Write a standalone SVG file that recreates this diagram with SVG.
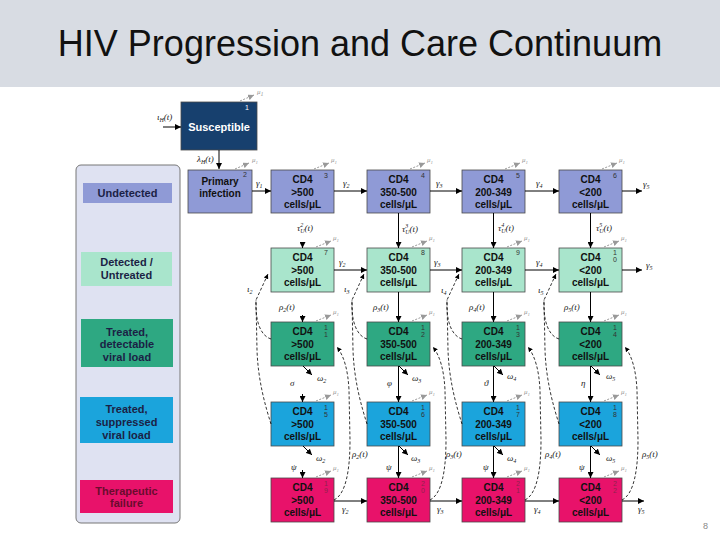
<svg xmlns="http://www.w3.org/2000/svg" width="720" height="540" viewBox="0 0 720 540">
<defs>
<style>
.bx{stroke:#4a4a4a;stroke-width:0.8}
.u{fill:#8f9ad6}.d{fill:#a9e5cc}.t{fill:#2ea882}.s{fill:#1ba4dc}.f{fill:#e8126a}
.bt{font-family:"Liberation Sans",Arial,sans-serif;font-weight:bold;font-size:10px;text-anchor:middle;fill:#111}
.side{font-family:"Liberation Sans",Arial,sans-serif;font-weight:bold;font-size:11px;text-anchor:middle;fill:#1b1f45}
.lb{font-family:"Liberation Serif","Times New Roman",serif;font-style:italic;font-size:9px;fill:#222}
.s6{font-size:6px}
.num{font-family:"Liberation Sans",Arial,sans-serif;font-size:7px;fill:#333;text-anchor:middle}
.ln{stroke:#000;stroke-width:1;fill:none}
.dl{stroke:#000;stroke-width:0.8;stroke-dasharray:3 2;fill:none}
.mu{stroke:#999;stroke-width:1;stroke-dasharray:2 1.5;fill:none}
.mut{font-family:"Liberation Serif",serif;font-style:italic;font-size:7px;fill:#999}
</style>
<marker id="ah" viewBox="0 0 10 10" refX="10" refY="5" markerWidth="6" markerHeight="6" orient="auto"><path d="M0,0 L10,5 L0,10 z" fill="#000"/></marker>
<marker id="ag" viewBox="0 0 10 10" refX="10" refY="5" markerWidth="6" markerHeight="6" orient="auto"><path d="M0,0 L10,5 L0,10 z" fill="#999"/></marker>
</defs>
<rect x="0" y="0" width="720" height="540" fill="#fff"/>
<rect x="0" y="0" width="720" height="87" fill="#d8dce3"/>
<text x="360" y="56" text-anchor="middle" font-family="'Liberation Sans',Arial,sans-serif" font-size="36" fill="#111">HIV Progression and Care Continuum</text>

<g id="legend">
<rect x="76" y="165" width="104" height="358" rx="5" fill="#dfe2f2" stroke="#777" stroke-width="1"/>
<g id="lg-undetected"><rect x="83" y="183" width="89" height="20" class="u"/><text class="side" x="127.5" y="197">Undetected</text></g>
<g id="lg-detected"><rect x="81" y="252" width="91" height="34" class="d"/><text class="side" x="126.5" y="266">Detected /</text><text class="side" x="126.5" y="279">Untreated</text></g>
<g id="lg-treated"><rect x="81" y="319" width="92" height="48" class="t"/><text class="side" x="127" y="336">Treated,</text><text class="side" x="127" y="348">detectable</text><text class="side" x="127" y="361">viral load</text></g>
<g id="lg-suppressed"><rect x="80" y="397" width="93" height="46" class="s"/><text class="side" x="126.5" y="413">Treated,</text><text class="side" x="126.5" y="426">suppressed</text><text class="side" x="126.5" y="439">viral load</text></g>
<g id="lg-failure"><rect x="80" y="480" width="93" height="33" class="f"/><text class="side" x="126.5" y="495" fill="#6a0c2e" style="fill:#6a0c2e">Therapeutic</text><text class="side" x="126.5" y="507" style="fill:#6a0c2e">failure</text></g>
</g>

<g id="susceptible">
<rect x="181" y="102" width="76" height="48" fill="#17406e" class="bx"/>
<text x="219" y="131" text-anchor="middle" font-family="'Liberation Sans',Arial,sans-serif" font-weight="bold" font-size="11" fill="#fff">Susceptible</text>
<text x="247" y="110" class="num" fill="#fff" style="fill:#fff">1</text>
</g>
<g id="primary">
<rect x="188" y="170" width="64" height="43" class="bx u"/>
<text class="bt" x="220" y="185">Primary</text><text class="bt" x="220" y="197">infection</text>
<text class="num" x="245" y="177">2</text>
</g>

<!-- Row 1 -->
<g id="r1c1"><rect x="271" y="170" width="63" height="43" class="bx u"/><text class="bt" x="302.5" y="183">CD4</text><text class="bt" x="302.5" y="195.5">&gt;500</text><text class="bt" x="302.5" y="208">cells/μL</text><text class="num" x="326" y="178">3</text></g>
<g id="r1c2"><rect x="367" y="170" width="63" height="43" class="bx u"/><text class="bt" x="398.5" y="183">CD4</text><text class="bt" x="398.5" y="195.5">350-500</text><text class="bt" x="398.5" y="208">cells/μL</text><text class="num" x="423" y="178">4</text></g>
<g id="r1c3"><rect x="462" y="170" width="63" height="43" class="bx u"/><text class="bt" x="493.5" y="183">CD4</text><text class="bt" x="493.5" y="195.5">200-349</text><text class="bt" x="493.5" y="208">cells/μL</text><text class="num" x="518" y="178">5</text></g>
<g id="r1c4"><rect x="559" y="170" width="63" height="43" class="bx u"/><text class="bt" x="590.5" y="183">CD4</text><text class="bt" x="590.5" y="195.5">&lt;200</text><text class="bt" x="590.5" y="208">cells/μL</text><text class="num" x="615" y="178">6</text></g>

<!-- Row 2 -->
<g id="r2c1"><rect x="271" y="248" width="63" height="44" class="bx d"/><text class="bt" x="302.5" y="261">CD4</text><text class="bt" x="302.5" y="273.5">&gt;500</text><text class="bt" x="302.5" y="286">cells/μL</text><text class="num" x="326" y="255">7</text></g>
<g id="r2c2"><rect x="367" y="248" width="63" height="44" class="bx d"/><text class="bt" x="398.5" y="261">CD4</text><text class="bt" x="398.5" y="273.5">350-500</text><text class="bt" x="398.5" y="286">cells/μL</text><text class="num" x="423" y="255">8</text></g>
<g id="r2c3"><rect x="462" y="248" width="63" height="44" class="bx d"/><text class="bt" x="493.5" y="261">CD4</text><text class="bt" x="493.5" y="273.5">200-349</text><text class="bt" x="493.5" y="286">cells/μL</text><text class="num" x="518" y="255">9</text></g>
<g id="r2c4"><rect x="559" y="248" width="63" height="44" class="bx d"/><text class="bt" x="590.5" y="261">CD4</text><text class="bt" x="590.5" y="273.5">&lt;200</text><text class="bt" x="590.5" y="286">cells/μL</text><text class="num" x="615" y="255">1</text><text class="num" x="615" y="262">0</text></g>

<!-- Row 3 -->
<g id="r3c1"><rect x="271" y="322" width="63" height="44" class="bx t"/><text class="bt" x="302.5" y="335">CD4</text><text class="bt" x="302.5" y="347.5">&gt;500</text><text class="bt" x="302.5" y="360">cells/μL</text><text class="num" x="326" y="330">1</text><text class="num" x="326" y="337">1</text></g>
<g id="r3c2"><rect x="367" y="322" width="63" height="44" class="bx t"/><text class="bt" x="398.5" y="335">CD4</text><text class="bt" x="398.5" y="347.5">350-500</text><text class="bt" x="398.5" y="360">cells/μL</text><text class="num" x="423" y="330">1</text><text class="num" x="423" y="337">2</text></g>
<g id="r3c3"><rect x="462" y="322" width="63" height="44" class="bx t"/><text class="bt" x="493.5" y="335">CD4</text><text class="bt" x="493.5" y="347.5">200-349</text><text class="bt" x="493.5" y="360">cells/μL</text><text class="num" x="518" y="330">1</text><text class="num" x="518" y="337">3</text></g>
<g id="r3c4"><rect x="559" y="322" width="63" height="44" class="bx t"/><text class="bt" x="590.5" y="335">CD4</text><text class="bt" x="590.5" y="347.5">&lt;200</text><text class="bt" x="590.5" y="360">cells/μL</text><text class="num" x="615" y="330">1</text><text class="num" x="615" y="337">4</text></g>

<!-- Row 4 -->
<g id="r4c1"><rect x="271" y="402" width="63" height="44" class="bx s"/><text class="bt" x="302.5" y="415">CD4</text><text class="bt" x="302.5" y="427.5">&gt;500</text><text class="bt" x="302.5" y="440">cells/μL</text><text class="num" x="326" y="410">1</text><text class="num" x="326" y="417">5</text></g>
<g id="r4c2"><rect x="367" y="402" width="63" height="44" class="bx s"/><text class="bt" x="398.5" y="415">CD4</text><text class="bt" x="398.5" y="427.5">350-500</text><text class="bt" x="398.5" y="440">cells/μL</text><text class="num" x="423" y="410">1</text><text class="num" x="423" y="417">6</text></g>
<g id="r4c3"><rect x="462" y="402" width="63" height="44" class="bx s"/><text class="bt" x="493.5" y="415">CD4</text><text class="bt" x="493.5" y="427.5">200-349</text><text class="bt" x="493.5" y="440">cells/μL</text><text class="num" x="518" y="410">1</text><text class="num" x="518" y="417">7</text></g>
<g id="r4c4"><rect x="559" y="402" width="63" height="44" class="bx s"/><text class="bt" x="590.5" y="415">CD4</text><text class="bt" x="590.5" y="427.5">&lt;200</text><text class="bt" x="590.5" y="440">cells/μL</text><text class="num" x="615" y="410">1</text><text class="num" x="615" y="417">8</text></g>

<!-- Row 5 -->
<g id="r5c1"><rect x="271" y="478" width="63" height="44" class="bx f"/><text class="bt" x="302.5" y="491">CD4</text><text class="bt" x="302.5" y="503.5">&gt;500</text><text class="bt" x="302.5" y="516">cells/μL</text><text class="num" x="326" y="486" opacity="0.5">1</text><text class="num" x="326" y="493" opacity="0.5">9</text></g>
<g id="r5c2"><rect x="367" y="478" width="63" height="44" class="bx f"/><text class="bt" x="398.5" y="491">CD4</text><text class="bt" x="398.5" y="503.5">350-500</text><text class="bt" x="398.5" y="516">cells/μL</text><text class="num" x="423" y="486" opacity="0.5">2</text><text class="num" x="423" y="493" opacity="0.5">0</text></g>
<g id="r5c3"><rect x="462" y="478" width="63" height="44" class="bx f"/><text class="bt" x="493.5" y="491">CD4</text><text class="bt" x="493.5" y="503.5">200-349</text><text class="bt" x="493.5" y="516">cells/μL</text><text class="num" x="518" y="486" opacity="0.5">2</text><text class="num" x="518" y="493" opacity="0.5">1</text></g>
<g id="r5c4"><rect x="559" y="478" width="63" height="44" class="bx f"/><text class="bt" x="590.5" y="491">CD4</text><text class="bt" x="590.5" y="503.5">&lt;200</text><text class="bt" x="590.5" y="516">cells/μL</text><text class="num" x="615" y="486" opacity="0.5">2</text><text class="num" x="615" y="493" opacity="0.5">2</text></g>

<g id="connectors">
<!-- inflow & infection -->
<line class="ln" x1="163" y1="127" x2="181" y2="127" marker-end="url(#ah)"/>
<text class="lb" x="157" y="120">ι<tspan class="s6" dy="2">H</tspan><tspan dy="-2">(t)</tspan></text>
<line class="ln" x1="219" y1="150" x2="219" y2="169" marker-end="url(#ah)"/>
<text class="lb" x="197" y="162">λ<tspan class="s6" dy="2">H</tspan><tspan dy="-2">(t)</tspan></text>

<!-- mu arrows -->
<g>
<line class="mu" x1="240" y1="101" x2="254" y2="95" marker-end="url(#ag)"/><text class="mut" x="257" y="94">μ<tspan class="s6" font-size="5" dy="1.5">1</tspan></text>
<line class="mu" x1="235" y1="169" x2="249" y2="163" marker-end="url(#ag)"/><text class="mut" x="252" y="162">μ<tspan font-size="5" dy="1.5">1</tspan></text>
<line class="mu" x1="314" y1="169" x2="329" y2="163" marker-end="url(#ag)"/><text class="mut" x="331" y="162">μ<tspan font-size="5" dy="1.5">1</tspan></text>
<line class="mu" x1="410" y1="169" x2="425" y2="163" marker-end="url(#ag)"/><text class="mut" x="427" y="162">μ<tspan font-size="5" dy="1.5">1</tspan></text>
<line class="mu" x1="505" y1="169" x2="520" y2="163" marker-end="url(#ag)"/><text class="mut" x="522" y="162">μ<tspan font-size="5" dy="1.5">1</tspan></text>
<line class="mu" x1="602" y1="169" x2="617" y2="163" marker-end="url(#ag)"/><text class="mut" x="619" y="162">μ<tspan font-size="5" dy="1.5">1</tspan></text>

<line class="mu" x1="316" y1="247" x2="331" y2="241" marker-end="url(#ag)"/><text class="mut" x="333" y="240">μ<tspan font-size="5" dy="1.5">1</tspan></text>
<line class="mu" x1="412" y1="247" x2="427" y2="241" marker-end="url(#ag)"/><text class="mut" x="429" y="240">μ<tspan font-size="5" dy="1.5">1</tspan></text>
<line class="mu" x1="507" y1="247" x2="522" y2="241" marker-end="url(#ag)"/><text class="mut" x="524" y="240">μ<tspan font-size="5" dy="1.5">1</tspan></text>
<line class="mu" x1="604" y1="247" x2="619" y2="241" marker-end="url(#ag)"/><text class="mut" x="621" y="240">μ<tspan font-size="5" dy="1.5">1</tspan></text>

<line class="mu" x1="316" y1="321" x2="331" y2="315" marker-end="url(#ag)"/><text class="mut" x="333" y="314">μ<tspan font-size="5" dy="1.5">1</tspan></text>
<line class="mu" x1="412" y1="321" x2="427" y2="315" marker-end="url(#ag)"/><text class="mut" x="429" y="314">μ<tspan font-size="5" dy="1.5">1</tspan></text>
<line class="mu" x1="507" y1="321" x2="522" y2="315" marker-end="url(#ag)"/><text class="mut" x="524" y="314">μ<tspan font-size="5" dy="1.5">1</tspan></text>
<line class="mu" x1="604" y1="321" x2="619" y2="315" marker-end="url(#ag)"/><text class="mut" x="621" y="314">μ<tspan font-size="5" dy="1.5">1</tspan></text>

<line class="mu" x1="316" y1="401" x2="331" y2="395" marker-end="url(#ag)"/><text class="mut" x="333" y="394">μ<tspan font-size="5" dy="1.5">1</tspan></text>
<line class="mu" x1="412" y1="401" x2="427" y2="395" marker-end="url(#ag)"/><text class="mut" x="429" y="394">μ<tspan font-size="5" dy="1.5">1</tspan></text>
<line class="mu" x1="507" y1="401" x2="522" y2="395" marker-end="url(#ag)"/><text class="mut" x="524" y="394">μ<tspan font-size="5" dy="1.5">1</tspan></text>
<line class="mu" x1="604" y1="401" x2="619" y2="395" marker-end="url(#ag)"/><text class="mut" x="621" y="394">μ<tspan font-size="5" dy="1.5">1</tspan></text>

<line class="mu" x1="316" y1="477" x2="331" y2="471" marker-end="url(#ag)"/><text class="mut" x="333" y="470">μ<tspan font-size="5" dy="1.5">1</tspan></text>
<line class="mu" x1="412" y1="477" x2="427" y2="471" marker-end="url(#ag)"/><text class="mut" x="429" y="470">μ<tspan font-size="5" dy="1.5">1</tspan></text>
<line class="mu" x1="507" y1="477" x2="522" y2="471" marker-end="url(#ag)"/><text class="mut" x="524" y="470">μ<tspan font-size="5" dy="1.5">1</tspan></text>
<line class="mu" x1="604" y1="477" x2="619" y2="471" marker-end="url(#ag)"/><text class="mut" x="621" y="470">μ<tspan font-size="5" dy="1.5">1</tspan></text>
</g>

<!-- Row 1 horizontals -->
<line class="ln" x1="252" y1="191" x2="271" y2="191" marker-end="url(#ah)"/>
<line class="ln" x1="334" y1="191" x2="367" y2="191" marker-end="url(#ah)"/>
<line class="ln" x1="430" y1="191" x2="462" y2="191" marker-end="url(#ah)"/>
<line class="ln" x1="525" y1="191" x2="559" y2="191" marker-end="url(#ah)"/>
<line class="ln" x1="622" y1="191" x2="642" y2="191" marker-end="url(#ah)"/>
<text class="lb" x="256" y="186">γ<tspan class="s6" dy="2">1</tspan></text>
<text class="lb" x="343" y="186">γ<tspan class="s6" dy="2">2</tspan></text>
<text class="lb" x="436" y="186">γ<tspan class="s6" dy="2">3</tspan></text>
<text class="lb" x="536" y="186">γ<tspan class="s6" dy="2">4</tspan></text>
<text class="lb" x="643" y="187">γ<tspan class="s6" dy="2">5</tspan></text>

<!-- Row 1 to 2 -->
<line class="ln" x1="302.5" y1="242" x2="302.5" y2="248" marker-end="url(#ah)"/>
<line class="ln" x1="398.5" y1="213" x2="398.5" y2="248" marker-end="url(#ah)"/>
<line class="ln" x1="493.5" y1="213" x2="493.5" y2="248" marker-end="url(#ah)"/>
<line class="ln" x1="590.5" y1="213" x2="590.5" y2="248" marker-end="url(#ah)"/>
<text class="lb" x="297" y="231">τ<tspan class="s6" dy="-4">2</tspan><tspan class="s6" dx="-3" dy="6">U</tspan><tspan dy="-2">(t)</tspan></text>
<text class="lb" x="402" y="232">τ<tspan class="s6" dy="-4">3</tspan><tspan class="s6" dx="-3" dy="6">U</tspan><tspan dy="-2">(t)</tspan></text>
<text class="lb" x="498" y="231">τ<tspan class="s6" dy="-4">4</tspan><tspan class="s6" dx="-3" dy="6">U</tspan><tspan dy="-2">(t)</tspan></text>
<text class="lb" x="596" y="231">τ<tspan class="s6" dy="-4">5</tspan><tspan class="s6" dx="-3" dy="6">U</tspan><tspan dy="-2">(t)</tspan></text>

<!-- Row 2 horizontals -->
<line class="ln" x1="334" y1="270" x2="367" y2="270" marker-end="url(#ah)"/>
<line class="ln" x1="430" y1="270" x2="462" y2="270" marker-end="url(#ah)"/>
<line class="ln" x1="525" y1="270" x2="559" y2="270" marker-end="url(#ah)"/>
<line class="ln" x1="622" y1="270" x2="642" y2="270" marker-end="url(#ah)"/>
<text class="lb" x="339" y="265">γ<tspan class="s6" dy="2">2</tspan></text>
<text class="lb" x="434" y="265">γ<tspan class="s6" dy="2">3</tspan></text>
<text class="lb" x="536" y="265">γ<tspan class="s6" dy="2">4</tspan></text>
<text class="lb" x="646" y="268">γ<tspan class="s6" dy="2">5</tspan></text>

<!-- Row 2 to 3 -->
<line class="ln" x1="302.5" y1="315" x2="302.5" y2="322" marker-end="url(#ah)"/>
<line class="ln" x1="398.5" y1="292" x2="398.5" y2="322" marker-end="url(#ah)"/>
<line class="ln" x1="493.5" y1="292" x2="493.5" y2="322" marker-end="url(#ah)"/>
<line class="ln" x1="590.5" y1="292" x2="590.5" y2="322" marker-end="url(#ah)"/>
<text class="lb" x="279" y="310">ρ<tspan class="s6" dy="2">2</tspan><tspan dy="-2">(t)</tspan></text>
<text class="lb" x="373" y="310">ρ<tspan class="s6" dy="2">3</tspan><tspan dy="-2">(t)</tspan></text>
<text class="lb" x="469" y="310">ρ<tspan class="s6" dy="2">4</tspan><tspan dy="-2">(t)</tspan></text>
<text class="lb" x="564" y="310">ρ<tspan class="s6" dy="2">5</tspan><tspan dy="-2">(t)</tspan></text>

<!-- Row 3 to 4 -->
<line class="ln" x1="302.5" y1="394" x2="302.5" y2="402" marker-end="url(#ah)"/>
<line class="ln" x1="398.5" y1="366" x2="398.5" y2="402" marker-end="url(#ah)"/>
<line class="ln" x1="493.5" y1="366" x2="493.5" y2="402" marker-end="url(#ah)"/>
<line class="ln" x1="590.5" y1="366" x2="590.5" y2="402" marker-end="url(#ah)"/>
<text class="lb" x="290" y="386">σ</text>
<text class="lb" x="387" y="386">φ</text>
<text class="lb" x="484" y="386">ϑ</text>
<text class="lb" x="581" y="386">η</text>
<line class="ln" x1="303" y1="366" x2="312" y2="375" marker-end="url(#ah)"/>
<line class="ln" x1="399" y1="366" x2="408" y2="375" marker-end="url(#ah)"/>
<line class="ln" x1="494" y1="366" x2="503" y2="375" marker-end="url(#ah)"/>
<line class="ln" x1="591" y1="366" x2="600" y2="375" marker-end="url(#ah)"/>
<text class="lb" x="317" y="381">ω<tspan class="s6" dy="2">2</tspan></text>
<text class="lb" x="412" y="381">ω<tspan class="s6" dy="2">3</tspan></text>
<text class="lb" x="507" y="379">ω<tspan class="s6" dy="2">4</tspan></text>
<text class="lb" x="606" y="379">ω<tspan class="s6" dy="2">5</tspan></text>

<!-- Row 4 to 5 -->
<line class="ln" x1="302.5" y1="470" x2="302.5" y2="478" marker-end="url(#ah)"/>
<line class="ln" x1="398.5" y1="446" x2="398.5" y2="478" marker-end="url(#ah)"/>
<line class="ln" x1="493.5" y1="446" x2="493.5" y2="478" marker-end="url(#ah)"/>
<line class="ln" x1="590.5" y1="446" x2="590.5" y2="478" marker-end="url(#ah)"/>
<text class="lb" x="291" y="470">ψ</text>
<text class="lb" x="386" y="470">ψ</text>
<text class="lb" x="483" y="470">ψ</text>
<text class="lb" x="579" y="470">ψ</text>
<line class="ln" x1="303" y1="446" x2="312" y2="455" marker-end="url(#ah)"/>
<line class="ln" x1="399" y1="446" x2="408" y2="455" marker-end="url(#ah)"/>
<line class="ln" x1="494" y1="446" x2="503" y2="455" marker-end="url(#ah)"/>
<line class="ln" x1="591" y1="446" x2="600" y2="455" marker-end="url(#ah)"/>
<text class="lb" x="316" y="461">ω<tspan class="s6" dy="2">2</tspan></text>
<text class="lb" x="411" y="461">ω<tspan class="s6" dy="2">3</tspan></text>
<text class="lb" x="507" y="461">ω<tspan class="s6" dy="2">4</tspan></text>
<text class="lb" x="606" y="461">ω<tspan class="s6" dy="2">5</tspan></text>

<!-- Row 5 horizontals -->
<line class="ln" x1="334" y1="501" x2="367" y2="501" marker-end="url(#ah)"/>
<line class="ln" x1="430" y1="501" x2="462" y2="501" marker-end="url(#ah)"/>
<line class="ln" x1="525" y1="501" x2="559" y2="501" marker-end="url(#ah)"/>
<line class="ln" x1="622" y1="501" x2="644" y2="501" marker-end="url(#ah)"/>
<text class="lb" x="342" y="512">γ<tspan class="s6" dy="2">2</tspan></text>
<text class="lb" x="437" y="512">γ<tspan class="s6" dy="2">3</tspan></text>
<text class="lb" x="534" y="512">γ<tspan class="s6" dy="2">4</tspan></text>
<text class="lb" x="638" y="512">γ<tspan class="s6" dy="2">5</tspan></text>

<!-- dashed: loss from care (rows 3,4 -> row 2) -->
<path class="dl" d="M271,339 C261,336 255,322 256,300 L268,274" marker-end="url(#ah)"/>
<path class="dl" d="M271,424 C265,405 258,380 257,350 L256,300"/>
<path class="dl" d="M367,339 C357,336 351,322 352,300 L364,274" marker-end="url(#ah)"/>
<path class="dl" d="M367,424 C361,405 354,380 353,350 L352,300"/>
<path class="dl" d="M462,339 C452,336 446,322 447,300 L459,274" marker-end="url(#ah)"/>
<path class="dl" d="M462,424 C456,405 449,380 448,350 L447,300"/>
<path class="dl" d="M559,339 C549,336 543,322 544,300 L556,274" marker-end="url(#ah)"/>
<path class="dl" d="M559,424 C553,405 546,380 545,350 L544,300"/>
<text class="lb" x="247" y="292">ι<tspan class="s6" dy="2">2</tspan></text>
<text class="lb" x="344" y="292">ι<tspan class="s6" dy="2">3</tspan></text>
<text class="lb" x="441" y="293">ι<tspan class="s6" dy="2">4</tspan></text>
<text class="lb" x="538" y="293">ι<tspan class="s6" dy="2">5</tspan></text>

<!-- dashed: failure -> treated -->
<path class="dl" d="M334,500 C346,494 350,470 350,440 L349,390 C348,370 344,356 337,347" marker-end="url(#ah)"/>
<path class="dl" d="M430,500 C442,494 446,470 446,440 L445,390 C444,370 440,356 433,347" marker-end="url(#ah)"/>
<path class="dl" d="M525,500 C537,494 541,470 541,440 L540,390 C539,370 535,356 528,347" marker-end="url(#ah)"/>
<path class="dl" d="M622,500 C634,494 638,470 638,440 L637,390 C636,370 632,356 625,347" marker-end="url(#ah)"/>
<text class="lb" x="352" y="457">ρ<tspan class="s6" dy="2">2</tspan><tspan dy="-2">(t)</tspan></text>
<text class="lb" x="446" y="457">ρ<tspan class="s6" dy="2">3</tspan><tspan dy="-2">(t)</tspan></text>
<text class="lb" x="545" y="457">ρ<tspan class="s6" dy="2">4</tspan><tspan dy="-2">(t)</tspan></text>
<text class="lb" x="642" y="457">ρ<tspan class="s6" dy="2">5</tspan><tspan dy="-2">(t)</tspan></text>
</g>

<text x="703" y="529" font-family="'Liberation Sans',Arial,sans-serif" font-size="9" fill="#888">8</text>
</svg>
